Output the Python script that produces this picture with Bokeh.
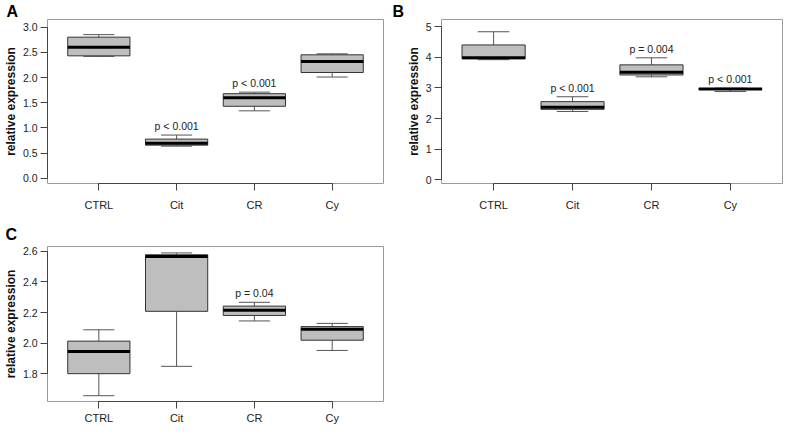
from bokeh.plotting import figure
from bokeh.models import Range1d, FixedTicker, ColumnDataSource
from bokeh.layouts import column, row
from bokeh.embed import file_html
from bokeh.resources import INLINE
from bokeh.core.properties import value
import numpy as np

categories = ["CTRL", "Cit", "CR", "Cy"]

# five-number summaries (whisker low, q1, median, q3, whisker high)
a_low = [2.42, 0.64, 1.34, 2.01]
a_q1 = [2.43, 0.66, 1.43, 2.10]
a_med = [2.60, 0.70, 1.60, 2.32]
a_q3 = [2.80, 0.78, 1.68, 2.45]
a_high = [2.85, 0.86, 1.71, 2.47]
a_pvals = ["", "p < 0.001", "p < 0.001", ""]
a_ticks = [0.0, 0.5, 1.0, 1.5, 2.0, 2.5, 3.0]
a_tick_labels = ["0.0", "0.5", "1.0", "1.5", "2.0", "2.5", "3.0"]

b_low = [3.92, 2.23, 3.36, 2.88]
b_q1 = [3.95, 2.30, 3.42, 2.95]
b_med = [3.98, 2.37, 3.51, 2.96]
b_q3 = [4.40, 2.55, 3.75, 2.98]
b_high = [4.83, 2.71, 3.98, 2.99]
b_pvals = ["", "p < 0.001", "p = 0.004", "p < 0.001"]
b_ticks = [0, 1, 2, 3, 4, 5]
b_tick_labels = ["0", "1", "2", "3", "4", "5"]

c_low = [1.656, 1.848, 2.145, 1.952]
c_q1 = [1.800, 2.208, 2.181, 2.019]
c_med = [1.945, 2.567, 2.215, 2.091]
c_q3 = [2.013, 2.578, 2.242, 2.108]
c_high = [2.087, 2.590, 2.267, 2.129]
c_pvals = ["", "", "p = 0.04", ""]
c_ticks = [1.8, 2.0, 2.2, 2.4, 2.6]
c_tick_labels = ["1.8", "2.0", "2.2", "2.4", "2.6"]

FONT = "Liberation Sans"
BOXW = 0.8


def panel(letter, low, q1, med, q3, high, pvals, ticks, tick_labels, yr,
          width, height, bl, br, bt, bb, title_standoff, xstandoff):
    n = len(categories)
    xs = np.arange(1, n + 1)
    p = figure(width=width, height=height, output_backend="svg", toolbar_location=None,
               x_range=Range1d(0.34, n + 0.66), y_range=Range1d(*yr),
               min_border_left=bl, min_border_right=br, min_border_top=bt,
               min_border_bottom=bb, tools="", title=letter)
    p.title.text_font = FONT
    p.title.text_font_style = "bold"
    p.title.text_font_size = "16px"
    p.title.text_color = "black"
    p.title.align = "left"
    p.title.offset = -bl
    p.title.standoff = title_standoff
    p.outline_line_color = "#9a9a9a"
    p.outline_line_width = 1
    p.xgrid.visible = False
    p.ygrid.visible = False
    src = ColumnDataSource(dict(x=xs, low=low, q1=q1, med=med, q3=q3, high=high,
                                l=xs - BOXW / 2, r=xs + BOXW / 2,
                                sl=xs - BOXW / 4, sr=xs + BOXW / 4, pv=pvals))
    wc = "#555555"
    p.segment(x0="x", y0="q3", x1="x", y1="high", source=src, line_color=wc, line_width=1)
    p.segment(x0="x", y0="low", x1="x", y1="q1", source=src, line_color=wc, line_width=1)
    p.segment(x0="sl", y0="high", x1="sr", y1="high", source=src, line_color=wc, line_width=1)
    p.segment(x0="sl", y0="low", x1="sr", y1="low", source=src, line_color=wc, line_width=1)
    p.quad(left="l", right="r", bottom="q1", top="q3", source=src,
           fill_color="#bebebe", line_color="#333333", line_width=1)
    p.segment(x0="l", y0="med", x1="r", y1="med", source=src, line_color="black", line_width=3)
    p.text(x="x", y="high", text="pv", source=src, text_align="center",
           text_baseline="bottom", y_offset=-3, text_font=value(FONT),
           text_font_size="10.5px", text_color="#222222")

    for ax in (p.xaxis[0], p.yaxis[0]):
        ax.axis_line_color = "#444444"
        ax.major_tick_line_color = "#444444"
        ax.major_tick_out = 7
        ax.major_tick_in = 0
        ax.minor_tick_out = 0
        ax.minor_tick_in = 0
        ax.major_label_text_font = FONT
        ax.major_label_text_color = "#222222"
        ax.major_label_standoff = 4
    p.xaxis.major_label_text_font_size = "11px"
    p.yaxis.major_label_text_font_size = "10.5px"
    p.yaxis.major_label_standoff = 3
    p.xaxis.ticker = FixedTicker(ticks=list(xs))
    p.xaxis.major_label_overrides = {int(x): c for x, c in zip(xs, categories)}
    p.xaxis.bounds = (1, n)
    p.xaxis.major_label_standoff = xstandoff
    p.yaxis.ticker = FixedTicker(ticks=ticks)
    p.yaxis.major_label_overrides = {t: s for t, s in zip(ticks, tick_labels)}
    p.yaxis.bounds = (ticks[0], ticks[-1])
    p.yaxis.axis_label = "relative expression"
    p.yaxis.axis_label_text_font = FONT
    p.yaxis.axis_label_text_font_style = "bold"
    p.yaxis.axis_label_text_font_size = "12px"
    p.yaxis.axis_label_text_color = "#111111"
    p.yaxis.axis_label_standoff = 2
    return p


pA = panel("A", a_low, a_q1, a_med, a_q3, a_high, a_pvals, a_ticks, a_tick_labels,
           (-0.1, 3.15), 392, 217, 41, 9, 18, 34, 0, 8)
pB = panel("B", b_low, b_q1, b_med, b_q3, b_high, b_pvals, b_ticks, b_tick_labels,
           (-0.12, 5.23), 392, 217, 49, 2, 19, 33, 0, 8)
pC = panel("C", c_low, c_q1, c_med, c_q3, c_high, c_pvals, c_ticks, c_tick_labels,
           (1.618, 2.632), 392, 209, 42, 9, 29, 22, 7, 3)

layout = column(row(pA, pB), row(pC))
open("out.html", "w").write(file_html(layout, INLINE))
